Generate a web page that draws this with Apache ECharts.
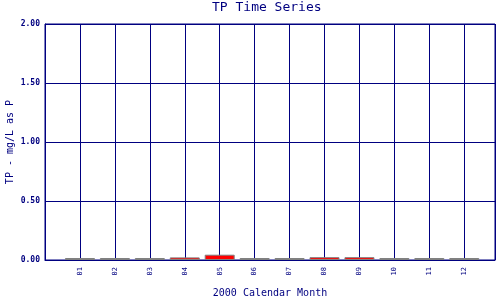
<!DOCTYPE html>
<html>
<head>
<meta charset="utf-8">
<script src="https://cdn.jsdelivr.net/npm/echarts@6/dist/echarts.min.js"></script>
<style>html,body{margin:0;padding:0;background:#fff;}#c{width:500px;height:300px;}</style>
</head>
<body>
<div id="c"></div>
<script>
var categories = ['01','02','03','04','05','06','07','08','09','10','11','12'];
var tpValues = [0.005, 0.005, 0.005, 0.022, 0.045, 0.005, 0.005, 0.024, 0.024, 0.005, 0.005, 0.005];
var yTicks = [0, 0.5, 1.0, 1.5, 2.0];

var navy = '#000080';
var mono = '"DejaVu Sans Mono", "Liberation Mono", monospace';
var data = tpValues.map(function (v, i) {
  return {
    value: [i + 1, v],
    itemStyle: { color: v > 0.01 ? '#ff0000' : '#808080' }
  };
});
var chart = echarts.init(document.getElementById('c'), null, { renderer: 'canvas' });
chart.setOption({
  animation: false,
  backgroundColor: '#ffffff',
  title: {
    text: 'TP Time Series',
    left: 212,
    top: 1,
    padding: 0,
    textStyle: { color: navy, fontFamily: mono, fontSize: 13, fontWeight: 'normal' }
  },
  grid: {
    left: 45, right: 5, top: 24, bottom: 40,
    containLabel: false,
    outerBoundsMode: 'none',
    show: true, borderColor: navy, borderWidth: 1, backgroundColor: 'transparent'
  },
  xAxis: {
    type: 'value',
    min: 0,
    max: 12.88,
    interval: 1,
    name: '2000 Calendar Month',
    nameLocation: 'middle',
    nameGap: 28,
    nameMoveOverlap: false,
    nameTextStyle: { color: navy, fontFamily: mono, fontSize: 10 },
    axisLine: { show: true, lineStyle: { color: navy, width: 1 } },
    axisTick: { show: false },
    splitLine: { show: true, lineStyle: { color: navy, width: 1 } },
    axisLabel: {
      rotate: 90,
      margin: 7,
      color: navy,
      fontFamily: mono,
      fontSize: 7,
      formatter: function (v) {
        var i = Math.round(v);
        if (Math.abs(v - i) > 1e-6 || i < 1 || i > categories.length) return '';
        return categories[i - 1];
      }
    }
  },
  yAxis: {
    type: 'value',
    min: yTicks[0],
    max: yTicks[yTicks.length - 1],
    interval: 0.5,
    name: 'TP - mg/L as P',
    nameLocation: 'middle',
    nameGap: 30,
    nameMoveOverlap: false,
    nameTextStyle: { color: navy, fontFamily: mono, fontSize: 10 },
    axisLine: { show: true, lineStyle: { color: navy, width: 1 } },
    axisTick: { show: false },
    splitLine: { show: true, lineStyle: { color: navy, width: 1 } },
    axisLabel: {
      margin: 5,
      color: navy,
      fontFamily: mono,
      fontSize: 8,
      fontWeight: 'bold',
      formatter: function (v) { return v.toFixed(2); }
    }
  },
  series: [{
    type: 'bar',
    barWidth: 30,
    barMinHeight: 2,
    data: data,
    itemStyle: { borderColor: '#808080', borderWidth: 1 }
  }]
});
</script>
</body>
</html>
